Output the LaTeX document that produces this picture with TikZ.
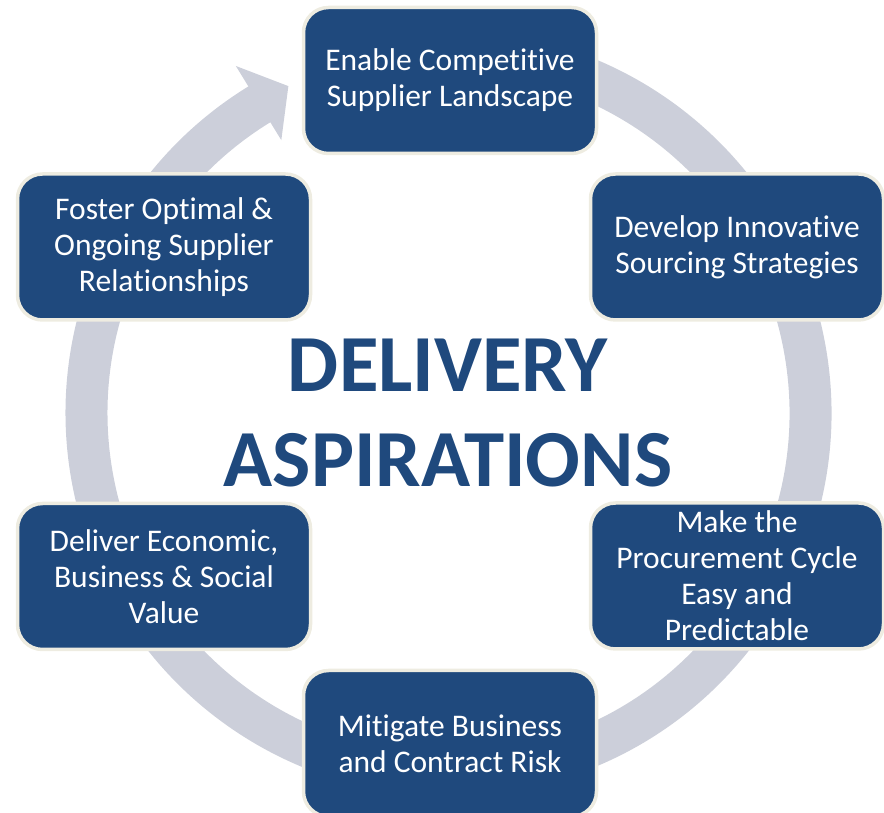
\documentclass[tikz,border=0pt]{standalone}
\usepackage{fontspec}
\setmainfont{Carlito}[Ligatures={NoCommon}]
\definecolor{boxblue}{HTML}{1F497D}
\definecolor{boxedge}{HTML}{EEECE1}
\definecolor{ringgray}{HTML}{CCCFDA}
\begin{document}
\begin{tikzpicture}[x=1pt,y=1pt,
  aspbox/.style={draw=boxedge, line width=3.5pt, fill=boxblue, rounded corners=25pt,
    minimum width=293pt, minimum height=146pt, inner sep=0pt, align=center,
    text=white, font=\fontsize{31.5}{36}\selectfont},
  titletext/.style={text=boxblue, align=center, font=\fontsize{81}{95}\bfseries\selectfont}]
\useasboundingbox (0,0) rectangle (884,813);
\coordinate (c) at (448.5,400);
% ring
\draw[ringgray, line width=42pt] ([shift={(100:362)}]c) arc[start angle=100, end angle=-239, radius=362];
\fill[ringgray] ([shift={(121.5:407)}]c) -- ([shift={(116.1:364)}]c) -- ([shift={(121.5:320)}]c) -- cycle;
% boxes
\node[aspbox] (n1) at (450,732.5) {Enable Competitive\\Supplier Landscape};
\node[aspbox] (n2) at (737,566) {Develop Innovative\\Sourcing Strategies};
\node[aspbox] (n3) at (737,237) {Make the\\Procurement Cycle\\Easy and\\Predictable};
\node[aspbox] (n4) at (450,69.5) {Mitigate Business\\and Contract Risk};
\node[aspbox] (n5) at (164,236.5) {Deliver Economic,\\Business \& Social\\Value};
\node[aspbox] (n6) at (164,566) {Foster Optimal \&\\Ongoing Supplier\\Relationships};
% title
\node[titletext] (title) at (448,400) {DELIVERY\\ASPIRATIONS};
\end{tikzpicture}
\end{document}
